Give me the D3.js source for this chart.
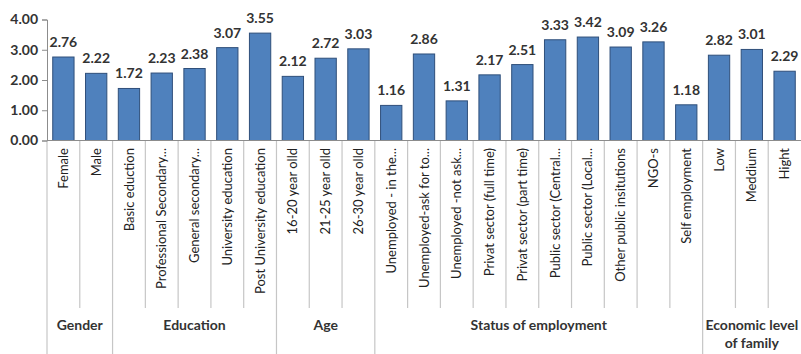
<!DOCTYPE html>
<html><head><meta charset="utf-8">
<script src="https://cdn.jsdelivr.net/npm/d3@7"></script>
<style>body{margin:0;background:#fff}svg{display:block}text{font-family:Lato,"Open Sans",sans-serif}</style>
</head><body><svg id="c" width="801" height="354"></svg>
<script>
const categories = ["Female","Male","Basic eduction","Professional Secondary...","General secondary...","University education","Post University education","16-20 year olld","21-25 year olld","26-30 year olld","Unemployed - in the...","Unemployed-ask for to...","Unemployed -not ask...","Privat sector (full time)","Privat sector (part time)","Public sector (Central...","Public sector (Local...","Other public insitutions","NGO-s","Self employment","Low","Meddium","Hight"];
const values = [2.76,2.22,1.72,2.23,2.38,3.07,3.55,2.12,2.72,3.03,1.16,2.86,1.31,2.17,2.51,3.33,3.42,3.09,3.26,1.18,2.82,3.01,2.29];
const groupNames = [["Gender"],["Education"],["Age"],["Status of employment"],["Economic level","of family"]];
const groupSizes = [2,5,3,10,3];
const yTicks = [0,1,2,3,4];

const svg = d3.select("#c");
const x = d3.scaleBand().domain(categories).range([47, 801]).paddingInner(0.35).paddingOuter(0.175);
const y = d3.scaleLinear().domain([0,4]).range([140.5, 19.5]);
const step = x.step();
const left = c => x(c) + x.bandwidth()/2 - step/2;

// separators
const sepCol = "#c6c6c6";
let idx = 0;
const groupStarts = [];
groupSizes.forEach(s => { groupStarts.push(idx); idx += s; });
categories.forEach((c,i) => {
  const isGroup = groupStarts.includes(i);
  svg.append("line").attr("x1", left(c)).attr("x2", left(c))
    .attr("y1", 140.5).attr("y2", isGroup ? 354 : 308)
    .attr("stroke", sepCol).attr("stroke-width", 1.2);
});

// bars
svg.selectAll("rect.bar").data(categories).join("rect")
  .attr("x", c => x(c)).attr("width", x.bandwidth())
  .attr("y", (c,i) => y(values[i])).attr("height", (c,i) => y(0) - y(values[i]))
  .attr("fill", "#4f81bd").attr("stroke", "#2f4f7a").attr("stroke-width", 1);

// value labels
svg.selectAll("text.val").data(categories).join("text")
  .attr("x", c => x(c) + x.bandwidth()/2).attr("y", (c,i) => y(values[i]) - 10)
  .attr("text-anchor", "middle").attr("font-size", 14).attr("font-weight", "bold")
  .attr("fill", "#333").text((c,i) => values[i].toFixed(2));

// baseline
svg.append("line").attr("x1", 47).attr("x2", 801).attr("y1", 140.5).attr("y2", 140.5)
  .attr("stroke", "#8c8c8c").attr("stroke-width", 1);

// y axis
const ya = svg.append("g").attr("transform", "translate(47,0)")
  .call(d3.axisLeft(y).tickValues(yTicks).tickFormat(d3.format(".2f")).tickSize(5).tickPadding(4));
ya.select(".domain").attr("stroke", "#8c8c8c");
ya.selectAll(".tick line").attr("stroke", "#8c8c8c");
ya.selectAll("text").attr("font-size", 14).attr("font-weight", "bold").attr("fill", "#333")
  .style("font-family", "Lato, 'Open Sans', sans-serif");

// category labels
svg.selectAll("text.cat").data(categories).join("text")
  .attr("transform", c => `translate(${x(c) + x.bandwidth()/2},148) rotate(-90)`)
  .attr("text-anchor", "end").attr("dy", "0.35em")
  .attr("font-size", 13).attr("fill", "#222").text(c => c);

// group labels
groupSizes.forEach((s,g) => {
  const st = groupStarts[g];
  const x0 = left(categories[st]);
  const x1 = left(categories[st + s - 1]) + step;
  const lines = groupNames[g];
  const t = svg.append("text").attr("x", (x0+x1)/2).attr("y", 330)
    .attr("text-anchor", "middle").attr("font-size", 14).attr("font-weight", "bold").attr("fill", "#333");
  lines.forEach((l,k) => t.append("tspan").attr("x", (x0+x1)/2).attr("dy", k === 0 ? 0 : 18).text(l));
});
</script></body></html>
